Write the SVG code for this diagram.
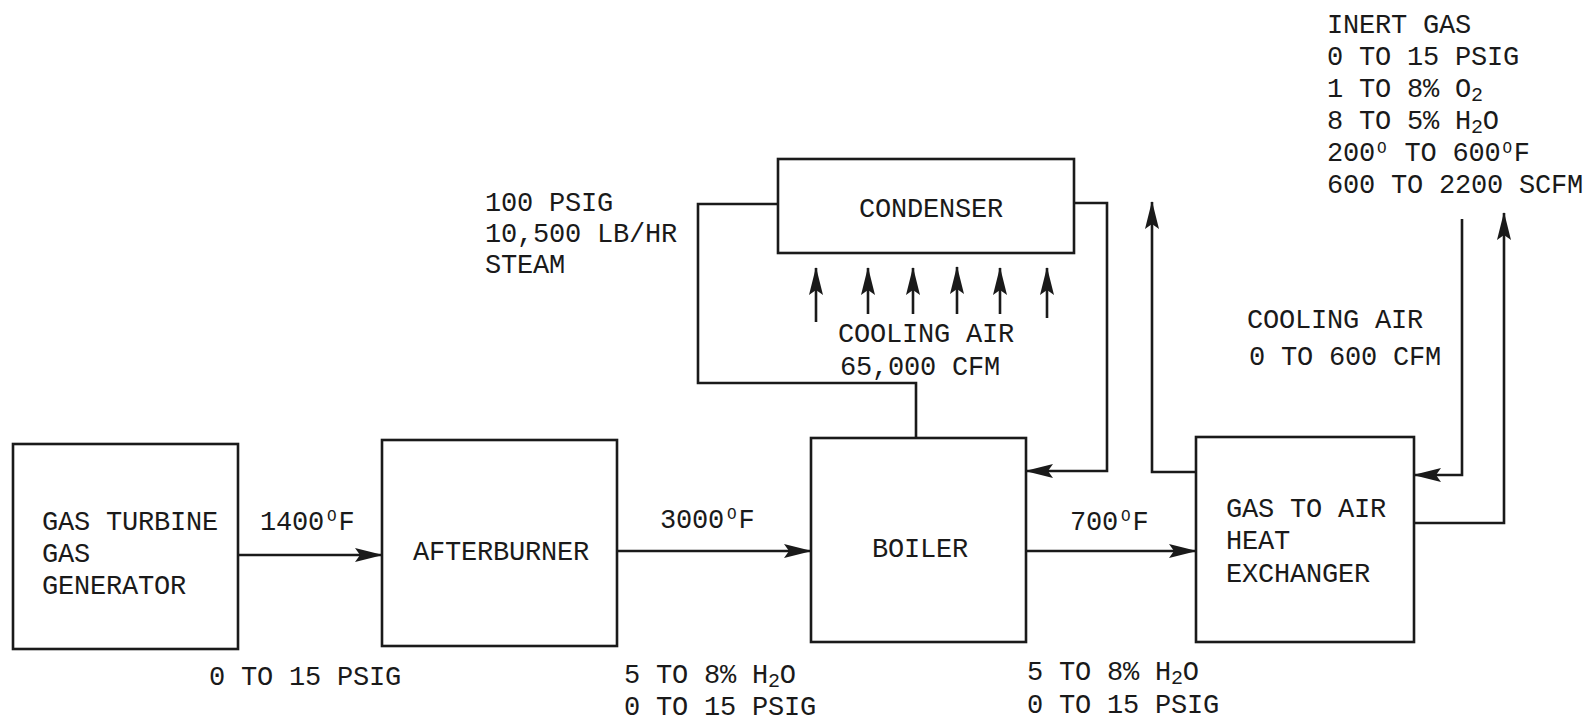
<svg xmlns="http://www.w3.org/2000/svg" width="1593" height="722" viewBox="0 0 1593 722">
<defs>
<marker id="ah" viewBox="0 0 28 16" refX="27" refY="8" markerWidth="28" markerHeight="16" markerUnits="userSpaceOnUse" orient="auto">
<path d="M0,1 L28,8 L0,15 L5,8 z" fill="#1a1a1a"/>
</marker>
</defs>
<style>
.box{fill:none;stroke:#1a1a1a;stroke-width:2.6}
.ln{fill:none;stroke:#1a1a1a;stroke-width:2.6}
.arr{fill:none;stroke:#1a1a1a;stroke-width:2.6;marker-end:url(#ah)}
text{font-family:"Liberation Mono","DejaVu Sans Mono",monospace;font-size:27px;letter-spacing:-0.2px;fill:#1a1a1a}
.sup{font-size:16px}
.sub{font-size:20px}
</style>
<rect width="1593" height="722" fill="#ffffff"/>

<g id="connectors">
<line class="arr" x1="238" y1="555" x2="382" y2="555"/>
<line class="arr" x1="617" y1="551" x2="811" y2="551"/>
<line class="arr" x1="1026" y1="551" x2="1196" y2="551"/>
<polyline class="ln" points="916,438 916,383 698,383 698,204 778,204"/>
<polyline class="arr" points="1074,203 1107,203 1107,471 1026,471"/>
<polyline class="arr" points="1196,472 1152,472 1152,202"/>
<polyline class="arr" points="1462,219 1462,475 1414,475"/>
<polyline class="arr" points="1414,523 1504,523 1504,213"/>
<line class="arr" x1="816" y1="322" x2="816" y2="268"/>
<line class="arr" x1="868" y1="314" x2="868" y2="268"/>
<line class="arr" x1="913" y1="314" x2="913" y2="268"/>
<line class="arr" x1="957" y1="314" x2="957" y2="267"/>
<line class="arr" x1="1000" y1="314" x2="1000" y2="268"/>
<line class="arr" x1="1047" y1="318" x2="1047" y2="268"/>
</g>

<g id="gas-turbine">
<rect class="box" x="13" y="444" width="225" height="205"/>
<text x="42" y="530">GAS TURBINE</text>
<text x="42" y="562">GAS</text>
<text x="42" y="594">GENERATOR</text>
</g>

<g id="afterburner">
<rect class="box" x="382" y="440" width="235" height="206"/>
<text x="413" y="560">AFTERBURNER</text>
</g>

<g id="boiler">
<rect class="box" x="811" y="438" width="215" height="204"/>
<text x="872" y="557">BOILER</text>
</g>

<g id="condenser">
<rect class="box" x="778" y="159" width="296" height="94"/>
<text x="859" y="217">CONDENSER</text>
</g>

<g id="heat-exchanger">
<rect class="box" x="1196" y="437" width="218" height="205"/>
<text x="1226" y="517">GAS TO AIR</text>
<text x="1226" y="549">HEAT</text>
<text x="1226" y="582">EXCHANGER</text>
</g>

<g id="labels">
<text x="260" y="530">1400<tspan class="sup" dx="3" dy="-9">O</tspan><tspan dx="2" dy="9">F</tspan></text>
<text x="209" y="685">0 TO 15 PSIG</text>
<text x="660" y="528">3000<tspan class="sup" dx="3" dy="-9">O</tspan><tspan dx="2" dy="9">F</tspan></text>
<text x="624" y="683">5 TO 8% H<tspan class="sub" dy="4">2</tspan><tspan dy="-4">O</tspan></text>
<text x="624" y="715">0 TO 15 PSIG</text>
<text x="1070" y="530">700<tspan class="sup" dx="3" dy="-9">O</tspan><tspan dx="2" dy="9">F</tspan></text>
<text x="1027" y="680">5 TO 8% H<tspan class="sub" dy="4">2</tspan><tspan dy="-4">O</tspan></text>
<text x="1027" y="713">0 TO 15 PSIG</text>
<text x="485" y="211">100 PSIG</text>
<text x="485" y="242">10,500 LB/HR</text>
<text x="485" y="273">STEAM</text>
<text x="838" y="342">COOLING AIR</text>
<text x="840" y="375">65,000 CFM</text>
<text x="1247" y="328">COOLING AIR</text>
<text x="1249" y="365">0 TO 600 CFM</text>
<text x="1327" y="33">INERT GAS</text>
<text x="1327" y="65">0 TO 15 PSIG</text>
<text x="1327" y="97">1 TO 8% O<tspan class="sub" dy="4">2</tspan></text>
<text x="1327" y="129">8 TO 5% H<tspan class="sub" dy="4">2</tspan><tspan dy="-4">O</tspan></text>
<text x="1327" y="161">200<tspan class="sup" dx="2" dy="-8">O</tspan><tspan dx="2" dy="8"> TO 600</tspan><tspan class="sup" dx="2" dy="-8">O</tspan><tspan dx="2" dy="8">F</tspan></text>
<text x="1327" y="193">600 TO 2200 SCFM</text>
</g>
</svg>
